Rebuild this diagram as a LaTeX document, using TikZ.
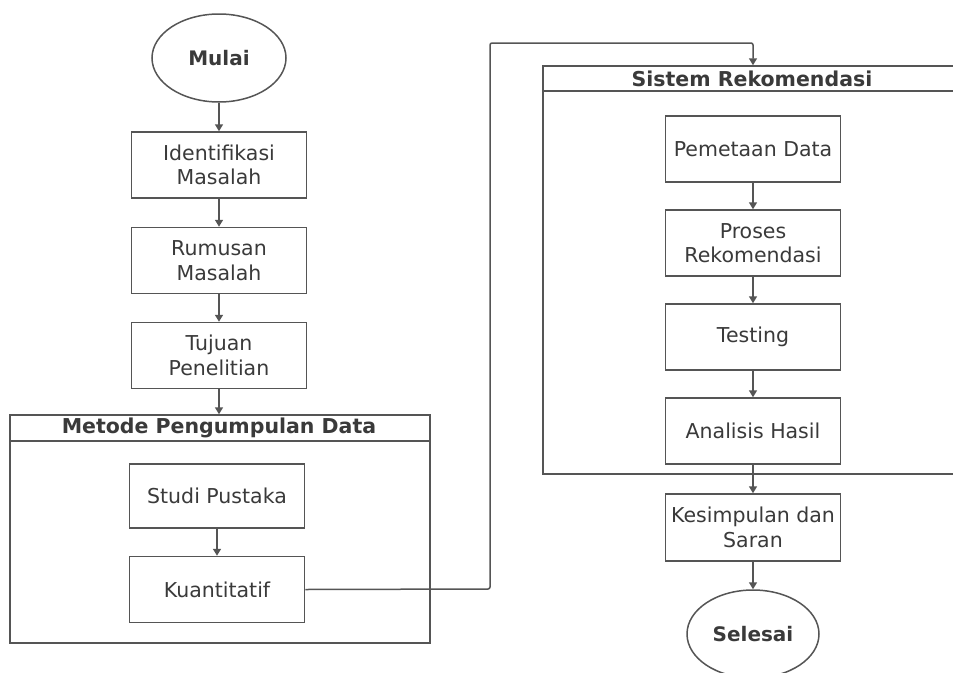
\documentclass[tikz,border=0pt]{standalone}
\usepackage{fontspec}
\setmainfont{DejaVu Sans}
\usetikzlibrary{arrows.meta,shapes.geometric}
\definecolor{ln}{HTML}{555555}
\definecolor{tx}{HTML}{3A3A3A}
\tikzset{
  box/.style={draw=ln,line width=1.5pt,rectangle,minimum width=175pt,minimum height=66pt,inner sep=0pt,align=center,text=tx,font=\fontsize{20.5}{24.5}\selectfont},
  oval/.style={draw=ln,line width=1.5pt,ellipse,minimum width=134pt,minimum height=88pt,inner sep=0pt,text=tx,font=\bfseries\fontsize{20}{24}\selectfont},
  cont/.style={draw=ln,line width=1.5pt,rectangle,inner sep=0pt},
  ttl/.style={text=tx,font=\bfseries\fontsize{20.5}{24}\selectfont,inner sep=0pt},
  arr/.style={draw=ln,line width=1.5pt,-{Triangle[width=8pt,length=7pt]}}
}
\begin{document}
\begin{tikzpicture}[x=1pt,y=-1pt]
\useasboundingbox (0,0) rectangle (953,672);
\clip (0,0) rectangle (953,672);
\fill[white] (0,0) rectangle (953,672);
% containers
\node[cont,minimum width=420pt,minimum height=228pt] (metode) at (220,529) {};
\draw[ln,line width=1.5pt] (10,441) -- (430,441);
\node[ttl] (metodet) at (219,428) {Metode Pengumpulan Data};
\node[cont,minimum width=430pt,minimum height=408pt] (sistem) at (758,270) {};
\draw[ln,line width=1.5pt] (543,91) -- (975,91);
\node[ttl] (sistemt) at (752,78.5) {Sistem Rekomendasi};
% left column
\node[oval] (mulai) at (219,58) {Mulai};
\node[box] (ident) at (219,165) {Identifikasi\\Masalah};
\node[box] (rumus) at (219,260.5) {Rumusan\\Masalah};
\node[box] (tujuan) at (219,355.5) {Tujuan\\Penelitian};
\node[box,minimum height=64pt] (studi) at (217,496) {Studi Pustaka};
\node[box] (kuan) at (217,589.5) {Kuantitatif};
% right column
\node[box] (pemet) at (753,149) {Pemetaan Data};
\node[box] (proses) at (753,243) {Proses\\Rekomendasi};
\node[box] (testing) at (753,337) {Testing};
\node[box] (analisis) at (753,431) {Analisis Hasil};
\node[box,minimum height=67pt] (kesim) at (753,527.5) {Kesimpulan dan\\Saran};
\node[oval,minimum width=132pt] (selesai) at (753,634) {Selesai};
% connectors
\coordinate (c1) at (490,589);
\coordinate (c2) at (490,43);
\coordinate (c3) at (753,43);
\draw[arr] (mulai) -- (ident);
\draw[arr] (ident) -- (rumus);
\draw[arr] (rumus) -- (tujuan);
\draw[arr] (tujuan.south) -- (tujuan.south |- metode.north);
\draw[arr] (studi) -- (kuan);
\draw[arr,rounded corners=2pt] (kuan.east) -- (c1) -- (c2) -- (c3) -- (c3 |- sistem.north);
\draw[arr] (pemet) -- (proses);
\draw[arr] (proses) -- (testing);
\draw[arr] (testing) -- (analisis);
\draw[arr] (analisis) -- (kesim);
\draw[arr] (kesim) -- (selesai);
\end{tikzpicture}
\end{document}
